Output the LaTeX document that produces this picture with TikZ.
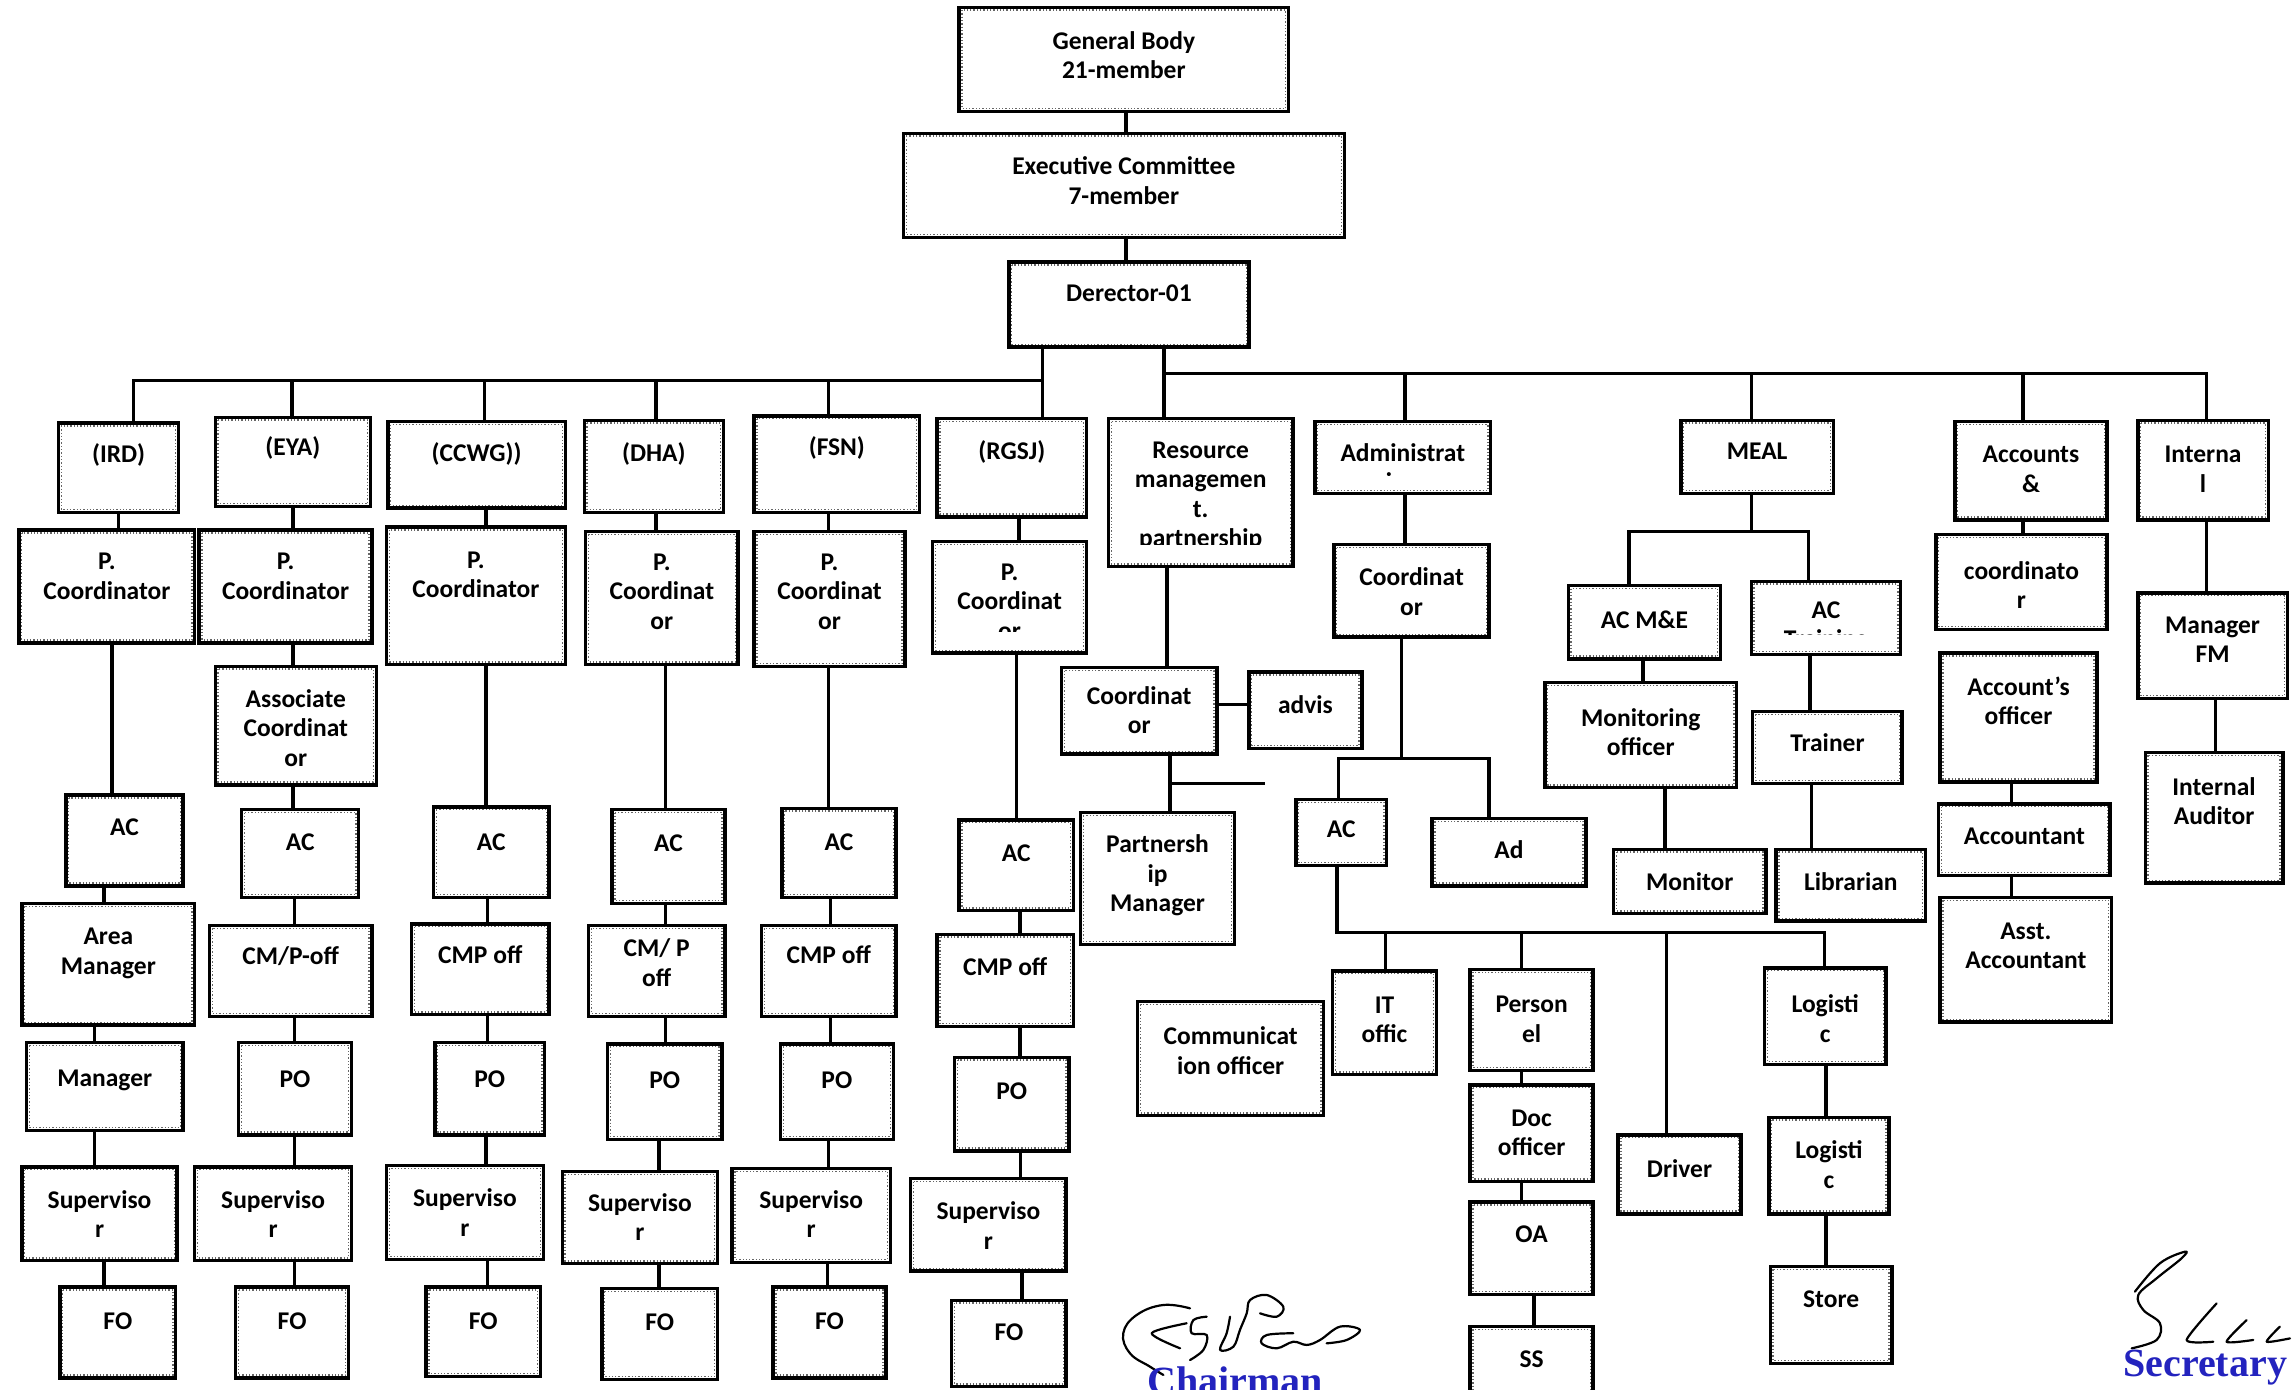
\documentclass[tikz,border=0pt]{standalone}
\usepackage{fontspec}
\setmainfont{Carlito}
\newfontfamily\sigfont{Liberation Serif}
\usetikzlibrary{calc}
\definecolor{sigblue}{RGB}{35,35,190}
\tikzset{
  box/.style={draw=black, line width=3.4pt, fill=white, inner sep=0pt},
  inframe/.style={draw=black!60, line width=1.3pt, dotted},
  lbl/.style={align=center, inner sep=0pt, font=\fontsize{25.5}{29.5}\selectfont\bfseries},
  conn/.style={draw=black, line width=3.4pt},
  sig/.style={draw=black, line width=2.2pt, line cap=round, line join=round},
  sigtitle/.style={text=sigblue, font=\fontsize{40}{44}\selectfont\sigfont\bfseries, inner sep=0pt}
}
\newcommand\bx[7]{%
  \node[box, minimum width={(#4-#2)*1.4643pt}, minimum height={(#5-#3)*1.4643pt}] (#1) at ({(#2+#4)/2},{(#3+#5)/2}) {};
  \draw[inframe] ([xshift=4.5pt,yshift=-4.5pt]#1.north west) rectangle ([xshift=-4.5pt,yshift=4.5pt]#1.south east);
  \node[lbl] (#1-t) at ({(#2+#4)/2},#6) {#7};
}
\newcommand\bxc[8]{%
  \node[box, minimum width={(#4-#2)*1.4643pt}, minimum height={(#5-#3)*1.4643pt}] (#1) at ({(#2+#4)/2},{(#3+#5)/2}) {};
  \draw[inframe] ([xshift=4.5pt,yshift=-4.5pt]#1.north west) rectangle ([xshift=-4.5pt,yshift=4.5pt]#1.south east);
  \begin{scope}
    \clip (#2,#3) rectangle (#4,#7);
    \node[lbl] (#1-t) at ({(#2+#4)/2},#6) {#8};
  \end{scope}
}
\newcommand\vc[3]{\draw[conn] (#1.south -| #3,0) -- (#2.north -| #3,0);}
\begin{document}
\begin{tikzpicture}[x=1.4643pt, y=-1.4643pt]
\useasboundingbox (0,0) rectangle (1568,949);
\fill[white] (0,0) rectangle (1568,949);

% ---------- top ----------
\bx{gb}{655}{5}{880}{76}{37.5}{General Body\\21-member}
\bx{ec}{617}{91}{918}{162}{123.5}{Executive Committee\\7-member}
\bx{dir}{689}{179}{853}{237}{200}{Derector-01}

% ---------- row 1 ----------
\bx{ird}{40}{289}{122}{350}{311}{(IRD)}
\bx{eya}{147}{285}{253}{346}{306}{(EYA)}
\bx{ccwg}{265}{288}{386}{347}{310}{(CCWG))}
\bx{dha}{399}{287}{494}{350}{310}{(DHA)}
\bx{fsn}{515}{284}{628}{350}{306}{(FSN)}
\bx{rgsj}{640}{286}{742}{353}{309}{(RGSJ)}
\bxc{res}{757}{286}{883}{387}{339}{372}{Resource\\managemen\\t.\\partnership}
\bxc{adm}{898}{288}{1018}{337}{319}{325}{Administrat\\ion}
\bx{meal}{1148}{287}{1252}{337}{308}{MEAL}
\bx{acc}{1335}{288}{1439}{355}{320.5}{Accounts\\\&}
\bx{int}{1460}{287}{1549}{355}{320.5}{Interna\\l}

% ---------- row 2 ----------
\bx{irdpc}{13}{362}{133}{439}{393.5}{P.\\Coordinator}
\bx{eyapc}{136}{362}{254}{439}{393.5}{P.\\Coordinator}
\bx{ccwgpc}{264}{360}{386}{454}{392.5}{P.\\Coordinator}
\bx{dhapc}{400}{363}{504}{454}{404}{P.\\Coordinat\\or}
\bx{fsnpc}{515}{363}{618}{455}{404}{P.\\Coordinat\\or}
\bxc{rgsjpc}{637}{370}{742}{446}{411}{431}{P.\\Coordinat\\or}
\bx{admco}{911}{372}{1017}{435}{404}{Coordinat\\or}
\bx{acme}{1071}{400}{1175}{450}{423}{AC M\&E}
\bxc{actr}{1196}{397}{1298}{447}{428}{433.5}{AC\\Training}
\bx{accco}{1322}{365}{1439}{430}{399.5}{coordinato\\r}
\bx{mfm}{1460}{405}{1562}{477}{437}{Manager\\FM}

% ---------- row 3 ----------
\bx{asc}{147}{455}{257}{536}{497}{Associate\\Coordinat\\or}
\bx{resco}{725}{456}{831}{515}{485}{Coordinat\\or}
\bx{advis}{853}{459}{930}{511}{481}{advis}
\bx{monoff}{1055}{466}{1186}{538}{500}{Monitoring\\officer}
\bx{trainer}{1197}{486}{1299}{535}{507}{Trainer}
\bx{accoff}{1325}{446}{1432}{534}{478.5}{Account’s\\officer}
\bx{iaud}{1465}{514}{1559}{603}{547}{Internal\\Auditor}

% ---------- row 4 ----------
\bx{irdac}{45}{543}{125}{605}{565}{AC}
\bx{eyaac}{165}{553}{245}{613}{575}{AC}
\bx{ccwgac}{296}{551}{375}{613}{575}{AC}
\bx{dhaac}{418}{553}{495}{617}{576}{AC}
\bx{fsnac}{534}{552}{612}{613}{575}{AC}
\bx{rgsjac}{655}{560}{733}{622}{583}{AC}
\bx{pm}{738}{555}{843}{645}{598}{Partnersh\\ip\\Manager}
\bx{admac}{885}{546}{947}{591}{566}{AC}
\bx{ad}{978}{559}{1083}{605}{580}{Ad}
\bx{monitor}{1102}{580}{1206}{624}{602}{Monitor}
\bx{libr}{1213}{580}{1315}{629}{602}{Librarian}
\bx{accnt}{1324}{549}{1441}{598}{571}{Accountant}

% ---------- row 5 ----------
\bx{am}{15}{617}{133}{700}{651}{Area\\Manager}
\bx{eyacm}{143}{632}{254}{694}{653}{CM/P-off}
\bx{ccwgcm}{281}{631}{375}{693}{652}{CMP off}
\bx{dhacm}{402}{632}{495}{694}{657.5}{CM/ P\\off}
\bx{fsncm}{520}{632}{612}{694}{652}{CMP off}
\bx{rgsjcm}{640}{638}{733}{701}{660}{CMP off}
\bx{asst}{1325}{613}{1442}{698}{646}{Asst.\\Accountant}
\bx{comm}{777}{684}{904}{762}{717.5}{Communicat\\ion officer}
\bx{it}{910}{663}{981}{734}{696.5}{IT\\offic}
\bx{pers}{1004}{662}{1088}{731}{696}{Person\\el}
\bx{log1}{1205}{661}{1288}{727}{695.5}{Logisti\\c}

% ---------- row 6 ----------
\bx{mgr}{18}{712}{125}{772}{738}{Manager}
\bx{eyapo}{163}{712}{240}{775}{737}{PO}
\bx{ccwgpo}{297}{712}{372}{775}{737}{PO}
\bx{dhapo}{415}{713}{493}{778}{738}{PO}
\bx{fsnpo}{533}{713}{610}{778}{738}{PO}
\bx{rgsjpo}{652}{722}{730}{786}{745}{PO}
\bx{doc}{1004}{741}{1088}{807}{773.5}{Doc\\officer}
\bx{driver}{1105}{775}{1189}{829}{798}{Driver}
\bx{log2}{1208}{763}{1290}{829}{795.5}{Logisti\\c}

% ---------- row 7 ----------
\bx{irdsup}{15}{797}{121}{861}{829}{Superviso\\r}
\bx{eyasup}{133}{797}{240}{861}{829}{Superviso\\r}
\bx{ccwgsup}{264}{796}{371}{860}{828}{Superviso\\r}
\bx{dhasup}{384}{800}{490}{863}{831}{Superviso\\r}
\bx{fsnsup}{500}{798}{608}{862}{829}{Superviso\\r}
\bx{rgsjsup}{622}{805}{728}{868}{837}{Superviso\\r}
\bx{oa}{1004}{821}{1088}{884}{843}{OA}
\bx{store}{1209}{865}{1292}{931}{887}{Store}

% ---------- row 8 ----------
\bx{irdfo}{41}{879}{120}{941}{902}{FO}
\bx{eyafo}{161}{879}{238}{941}{902}{FO}
\bx{ccwgfo}{291}{879}{369}{940}{902}{FO}
\bx{dhafo}{411}{880}{490}{942}{903}{FO}
\bx{fsnfo}{528}{879}{605}{941}{902}{FO}
\bx{rgsjfo}{650}{888}{728}{947}{910}{FO}
\bx{ss}{1004}{906}{1088}{966}{928}{SS}

% ---------- connectors: top ----------
\vc{gb}{ec}{769}
\vc{ec}{dir}{769}
\coordinate (lbus) at (91,260);
\coordinate (rbus) at (1507,255);
\draw[conn] (dir.south -| 712,0) -- (rgsj.north -| 712,0);
\draw[conn] (lbus -| 712,0) -- (lbus) -- (ird.north -| lbus);
\foreach \n/\xx in {eya/199.5, ccwg/331, dha/448, fsn/566}
  \draw[conn] (lbus -| \xx,0) -- (\n.north -| \xx,0);
\draw[conn] (dir.south -| 795,0) -- (res.north -| 795,0);
\draw[conn] (rbus -| 795,0) -- (rbus) -- (int.north -| rbus);
\foreach \n/\xx in {adm/959.5, meal/1196, acc/1381.5}
  \draw[conn] (rbus -| \xx,0) -- (\n.north -| \xx,0);

% ---------- IRD ----------
\vc{ird}{irdpc}{81}
\vc{irdpc}{irdac}{76.5}
\vc{irdac}{am}{71}
\vc{am}{mgr}{64.5}
\vc{mgr}{irdsup}{64.5}
\vc{irdsup}{irdfo}{71}
% ---------- EYA ----------
\vc{eya}{eyapc}{200}
\vc{eyapc}{asc}{200}
\vc{asc}{eyaac}{200}
\vc{eyaac}{eyacm}{201}
\vc{eyacm}{eyapo}{201}
\vc{eyapo}{eyasup}{201}
\vc{eyasup}{eyafo}{201}
% ---------- CCWG ----------
\vc{ccwg}{ccwgpc}{332}
\vc{ccwgpc}{ccwgac}{332}
\vc{ccwgac}{ccwgcm}{333}
\vc{ccwgcm}{ccwgpo}{333}
\vc{ccwgpo}{ccwgsup}{332}
\vc{ccwgsup}{ccwgfo}{333}
% ---------- DHA ----------
\vc{dha}{dhapc}{448}
\vc{dhapc}{dhaac}{454.5}
\vc{dhaac}{dhacm}{454.5}
\vc{dhacm}{dhapo}{454.5}
\vc{dhapo}{dhasup}{450}
\vc{dhasup}{dhafo}{450}
% ---------- FSN ----------
\vc{fsn}{fsnpc}{566}
\vc{fsnpc}{fsnac}{566}
\vc{fsnac}{fsncm}{567}
\vc{fsncm}{fsnpo}{567}
\vc{fsnpo}{fsnsup}{566}
\vc{fsnsup}{fsnfo}{565}
% ---------- RGSJ ----------
\vc{rgsj}{rgsjpc}{696}
\vc{rgsjpc}{rgsjac}{694}
\vc{rgsjac}{rgsjcm}{696.5}
\vc{rgsjcm}{rgsjpo}{696.5}
\vc{rgsjpo}{rgsjsup}{697}
\vc{rgsjsup}{rgsjfo}{698}
% ---------- Resource ----------
\vc{res}{resco}{797}
\draw[conn] (resco.east |- 0,481) -- (advis.west |- 0,481);
\vc{resco}{pm}{799}
\coordinate (stub) at (864,535);
\draw[conn] (stub -| 799,0) -- (stub);
% ---------- Administration ----------
\vc{adm}{admco}{959.5}
\coordinate (admbr) at (957,518);
\draw[conn] (admco.south -| admbr) -- (admbr);
\draw[conn] (admac.north -| 914,0) -- (admbr -| 914,0) -- (admbr -| 1017,0) -- (ad.north -| 1017,0);
\coordinate (abus) at (913,637);
\draw[conn] (admac.south -| abus) -- (abus) -- (abus -| 1246,0) -- (log1.north -| 1246,0);
\foreach \n/\xx in {it/946, pers/1039, driver/1138}
  \draw[conn] (abus -| \xx,0) -- (\n.north -| \xx,0);
\vc{pers}{doc}{1039}
\vc{doc}{oa}{1039}
\vc{oa}{ss}{1047.5}
\vc{log1}{log2}{1247}
\vc{log2}{store}{1247}
% ---------- MEAL ----------
\coordinate (mbr) at (1196,363);
\draw[conn] (meal.south -| mbr) -- (mbr);
\draw[conn] (acme.north -| 1112.5,0) -- (mbr -| 1112.5,0) -- (mbr -| 1235,0) -- (actr.north -| 1235,0);
\vc{acme}{monoff}{1122}
\vc{monoff}{monitor}{1137}
\vc{actr}{trainer}{1236}
\vc{trainer}{libr}{1237}
% ---------- Accounts ----------
\vc{acc}{accco}{1381.5}
\vc{accoff}{accnt}{1373.5}
\vc{accnt}{asst}{1373.5}
% ---------- Internal ----------
\vc{int}{mfm}{1507}
\vc{mfm}{iaud}{1513}

% ---------- signatures ----------
\draw[sig] plot[smooth, tension=0.7] coordinates {(812.7,893.5) (794.5,891.2) (776.3,898.0) (767.1,910.5) (771.7,924.2) (785.3,933.3) (794.5,939.0)};
\draw[sig] plot[smooth, tension=0.5] coordinates {(810.4,903.7) (786.5,910.5) (805.9,920.8)};
\draw[sig] plot[smooth, tension=0.6] coordinates {(824.1,899.2) (815.0,901.5) (813.8,910.5) (824.1,911.7) (821.8,921.9) (812.7,928.8)};
\draw[sig] plot[smooth, tension=0.6] coordinates {(840.0,899.2) (837.7,910.5) (833.2,921.9) (842.3,919.7) (846.8,908.2) (851.4,896.9) (853.7,887.8) (865.1,884.4) (876.4,892.4) (871.9,899.2) (860.5,896.9)};
\draw[sig] plot[smooth, tension=0.6] coordinates {(883.2,910.5) (865.1,911.7) (861.6,917.4) (871.9,920.8) (883.2,916.3) (892.4,918.5) (901.5,915.1) (915.1,906.0) (928.8,908.2) (919.7,915.1) (906.0,917.4)};
\node[sigtitle, anchor=base] (chair) at (843.5,952) {Chairman};

\draw[sig] plot[smooth, tension=0.6] coordinates {(1458.0,882.1) (1475.1,862.7) (1492.2,854.8) (1489.9,859.3) (1472.8,873.0) (1460.3,884.4) (1463.7,894.6) (1475.1,903.7) (1472.8,915.1) (1455.8,920.8)};
\draw[sig] plot[smooth, tension=0.4] coordinates {(1513.8,890.1) (1493.3,915.1) (1511.5,916.3)};
\draw[sig] plot[smooth, tension=0.4] coordinates {(1534.3,901.5) (1520.6,916.3) (1538.8,915.1)};
\draw[sig] plot[smooth, tension=0.4] coordinates {(1557.0,906.0) (1548.0,916.3) (1563.9,914.0)};
\node[sigtitle, anchor=base east] (secr) at (1562,940) {Secretary};
\end{tikzpicture}
\end{document}
